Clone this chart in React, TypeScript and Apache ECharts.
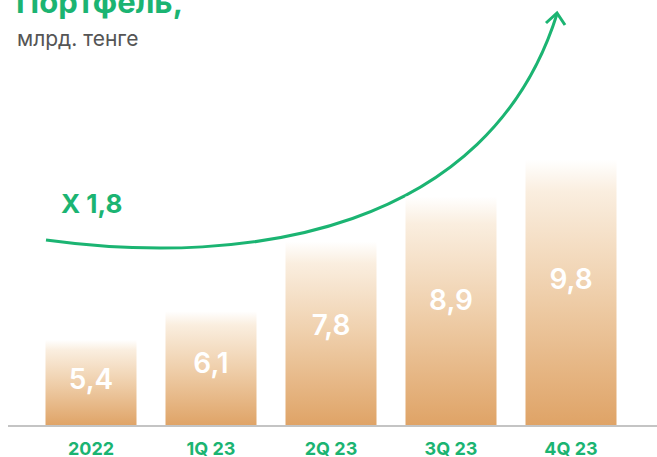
import React, { useEffect, useRef } from "react";
import * as echarts from "echarts";

const categories = ["2022", "1Q 23", "2Q 23", "3Q 23", "4Q 23"];
const values = [5.4, 6.1, 7.8, 8.9, 9.8];
const valueLabels = ["5,4", "6,1", "7,8", "8,9", "9,8"];
const titleText = "Портфель,";
const unitText = "млрд. тенге";
const growthText = "X 1,8";

const GREEN = "#1BB472";
const FONT = "Inter, 'Noto Sans', sans-serif";

export default function App() {
  const ref = useRef<HTMLDivElement>(null);
  useEffect(() => {
    if (!ref.current) return;
    const chart = echarts.init(ref.current, null, { renderer: "svg" });
    chart.setOption({
      animation: false,
      backgroundColor: "#ffffff",
      grid: { left: 31, right: 26, top: 98, bottom: 31 },
      xAxis: {
        type: "category",
        data: categories,
        axisLine: { show: false },
        axisTick: { show: false },
        axisLabel: {
          color: GREEN,
          fontFamily: FONT,
          fontWeight: "bold",
          fontSize: 18,
          margin: 13,
        },
      },
      yAxis: {
        type: "value",
        min: 3.3,
        max: 11.3,
        show: false,
        splitLine: { show: false },
      },
      series: [
        {
          type: "bar",
          barWidth: 91,
          data: values.map((v, i) => ({
            value: v,
            label: { formatter: valueLabels[i] },
          })),
          itemStyle: {
            color: new echarts.graphic.LinearGradient(0, 0, 0, 1, [
              { offset: 0, color: "#FFFFFF" },
              { offset: 0.12, color: "#FAEEDF" },
              { offset: 0.5, color: "#EFCFAB" },
              { offset: 1, color: "#DFA366" },
            ]),
          },
          label: {
            show: true,
            position: ["50%", "45%"],
            align: "center",
            verticalAlign: "middle",
            color: "#FFFFFF",
            fontFamily: FONT,
            fontWeight: 600,
            fontSize: 28,
          },
        },
      ],
      graphic: [
        {
          type: "line",
          shape: { x1: 8, y1: 426, x2: 657, y2: 426 },
          style: { stroke: "#C4C4C4", lineWidth: 2 },
          z: 10,
        },
        {
          type: "text",
          x: 16,
          y: 1,
          style: {
            text: titleText,
            fill: GREEN,
            font: `bold 31px ${FONT}`,
            textVerticalAlign: "middle",
          },
        },
        {
          type: "text",
          x: 17,
          y: 38,
          style: {
            text: unitText,
            fill: "#555555",
            font: `21px ${FONT}`,
            textVerticalAlign: "middle",
          },
        },
        {
          type: "text",
          x: 61,
          y: 203,
          style: {
            text: growthText,
            fill: GREEN,
            font: `bold 26px ${FONT}`,
            textVerticalAlign: "middle",
          },
        },
        {
          type: "bezierCurve",
          shape: {
            x1: 46,
            y1: 240,
            cpx1: 250,
            cpy1: 268,
            cpx2: 489,
            cpy2: 230,
            x2: 557,
            y2: 14,
          },
          style: { stroke: GREEN, lineWidth: 3, fill: null },
        },
        {
          type: "polyline",
          shape: {
            points: [
              [546, 23],
              [557, 13],
              [565, 25],
            ],
          },
          style: { stroke: GREEN, lineWidth: 3, fill: null },
        },
      ],
    });
    return () => chart.dispose();
  }, []);
  return (
    <div
      ref={ref}
      style={{ position: "absolute", left: 0, top: 0, width: 657, height: 457 }}
    />
  );
}
